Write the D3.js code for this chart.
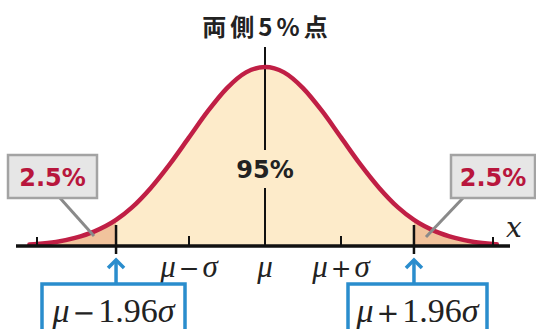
<!DOCTYPE html>
<html><head><meta charset="utf-8">
<script src="https://cdn.jsdelivr.net/npm/d3@7"></script>
<style>body{margin:0;background:#fff}svg{display:block}</style>
</head><body><svg id="c" width="536" height="329"></svg>
<script>
// Density curve points (z in σ units, relative density)
const zs = [-3.1,-3,-2.75,-2.5,-2.25,-1.96,-1.75,-1.5,-1.25,-1,-0.75,-0.5,-0.25,0,0.25,0.5,0.75,1,1.25,1.5,1.75,1.96,2.25,2.5,2.75,3,3.05];
const dens = [0.0033,0.0044,0.009,0.018,0.032,0.058,0.086,0.130,0.183,0.242,0.301,0.352,0.387,0.399,0.387,0.352,0.301,0.242,0.183,0.130,0.086,0.058,0.032,0.018,0.009,0.0044,0.0038];
const tickPos = [-1, 0, 1];
const tickLabels = [["μ","−","σ"], ["μ"], ["μ","+","σ"]];
const critical = [-1.96, 1.96];
const critLabels = [["μ","−","1.96","σ"], ["μ","+","1.96","σ"]];
const endTicks = [-3, 3];
const centerLabel = "95%";
const tailLabel = "2.5%";
const title = "両側5%点";

const svg = d3.select("#c");
const x = d3.scaleLinear().domain([-3, 3]).range([37, 493]);
const y = d3.scaleLinear().domain([0, 0.399]).range([246, 67]);
const pts = zs.map((z, i) => ({z, d: dens[i]}));

const area = d3.area().x(p => x(p.z)).y0(y(0)).y1(p => y(p.d)).curve(d3.curveMonotoneX);
const line = d3.line().x(p => x(p.z)).y(p => y(p.d)).curve(d3.curveMonotoneX);

const left = pts.filter(p => p.z <= -1.96);
const mid = pts.filter(p => p.z >= -1.96 && p.z <= 1.96);
const right = pts.filter(p => p.z >= 1.96);
svg.append("path").attr("d", area(mid)).attr("fill", "#fdebca");
svg.append("path").attr("d", area(left)).attr("fill", "#f1c39c");
svg.append("path").attr("d", area(right)).attr("fill", "#f1c39c");

// center line with gap around 95%
svg.append("line").attr("x1", x(0)).attr("x2", x(0)).attr("y1", 47).attr("y2", 150).attr("stroke", "#111").attr("stroke-width", 2);
svg.append("line").attr("x1", x(0)).attr("x2", x(0)).attr("y1", 188).attr("y2", y(0)).attr("stroke", "#111").attr("stroke-width", 2);

// curve
svg.append("path").attr("d", line(pts)).attr("fill", "none").attr("stroke", "#c01f45").attr("stroke-width", 4.5).attr("stroke-linecap", "round");

// axis
svg.append("line").attr("x1", 16).attr("x2", 510).attr("y1", y(0)).attr("y2", y(0)).attr("stroke", "#111").attr("stroke-width", 3.5);
svg.selectAll(".et").data(endTicks).join("line").attr("x1", d => x(d)).attr("x2", d => x(d))
  .attr("y1", y(0) - 9).attr("y2", y(0)).attr("stroke", "#111").attr("stroke-width", 2);
svg.selectAll(".st").data([-1, 1]).join("line").attr("x1", d => x(d)).attr("x2", d => x(d))
  .attr("y1", y(0) - 10).attr("y2", y(0)).attr("stroke", "#111").attr("stroke-width", 2);
svg.selectAll(".ct").data(critical).join("line").attr("x1", d => x(d)).attr("x2", d => x(d))
  .attr("y1", 225).attr("y2", y(0) + 8).attr("stroke", "#111").attr("stroke-width", 2.5);

// x label
svg.append("text").attr("x", 514).attr("y", 237).attr("text-anchor", "middle")
  .attr("font-family", "DejaVu Serif").attr("font-style", "italic").attr("font-size", 28).attr("fill", "#222").text("x");

function fillMath(t, parts, size, gap) {
  parts.forEach((s, j) => {
    const isVar = (s === "μ" || s === "σ");
    const isOp = (s === "−" || s === "+");
    t.append("tspan")
      .attr("font-family", isOp ? "DejaVu Sans" : "Liberation Serif")
      .attr("font-style", isVar ? "italic" : "normal")
      .attr("font-size", isOp ? size * 0.8 : size)
      .attr("dx", (isOp || (j > 0 && parts[j - 1].match(/[−+]/))) ? gap : 0)
      .text(s);
  });
}

// tick labels
const tl = svg.selectAll(".tl").data(tickPos).join("text")
  .attr("x", d => x(d)).attr("y", 277).attr("text-anchor", "middle").attr("fill", "#222");
tl.each(function(d, i) { fillMath(d3.select(this), tickLabels[i], 31, 3); });

// title
svg.append("text").attr("x", x(0) + 2).attr("y", 36).attr("text-anchor", "middle")
  .attr("font-family", "Noto Sans CJK JP").attr("font-weight", "bold").attr("font-size", 24)
  .attr("letter-spacing", 4).attr("fill", "#222").text(title);

// 95%
svg.append("text").attr("x", x(0)).attr("y", 178).attr("text-anchor", "middle")
  .attr("font-family", "DejaVu Sans").attr("font-weight", "bold").attr("font-size", 24).attr("fill", "#222").text(centerLabel);

// 2.5% callouts
const callouts = [
  {bx: 8, bw: 89, lx1: 60, ly1: 198, lx2: 94, ly2: 236},
  {bx: 451, bw: 84, lx1: 463, ly1: 198, lx2: 426, ly2: 237}
];
callouts.forEach(c => {
  svg.append("line").attr("x1", c.lx1).attr("y1", c.ly1).attr("x2", c.lx2).attr("y2", c.ly2)
    .attr("stroke", "#8a8a8a").attr("stroke-width", 3);
  svg.append("rect").attr("x", c.bx).attr("y", 155).attr("width", c.bw).attr("height", 43)
    .attr("fill", "#e6e6e6").attr("stroke", "#a3a3a3").attr("stroke-width", 2.5);
  svg.append("text").attr("x", c.bx + c.bw / 2).attr("y", 186).attr("text-anchor", "middle")
    .attr("font-family", "DejaVu Sans").attr("font-weight", "bold").attr("font-size", 24).attr("fill", "#b8163d").text(tailLabel);
});

// critical value arrows and boxes
const boxes = [{x0: 42, x1: 185}, {x0: 348, x1: 487}];
critical.forEach((c, i) => {
  const cx = x(c);
  svg.append("line").attr("x1", cx).attr("x2", cx).attr("y1", 260).attr("y2", 284)
    .attr("stroke", "#2a8dcd").attr("stroke-width", 3.5);
  svg.append("path").attr("d", `M${cx - 8},${268}L${cx},${260}L${cx + 8},${268}`)
    .attr("fill", "none").attr("stroke", "#2a8dcd").attr("stroke-width", 3.5);
  const b = boxes[i];
  svg.append("rect").attr("x", b.x0).attr("y", 284).attr("width", b.x1 - b.x0).attr("height", 60)
    .attr("fill", "#fff").attr("stroke", "#2a8dcd").attr("stroke-width", 3.5);
  const t = svg.append("text").attr("x", (b.x0 + b.x1) / 2).attr("y", 322).attr("text-anchor", "middle").attr("fill", "#222");
  fillMath(t, critLabels[i], 34, 3);
});
</script></body></html>
